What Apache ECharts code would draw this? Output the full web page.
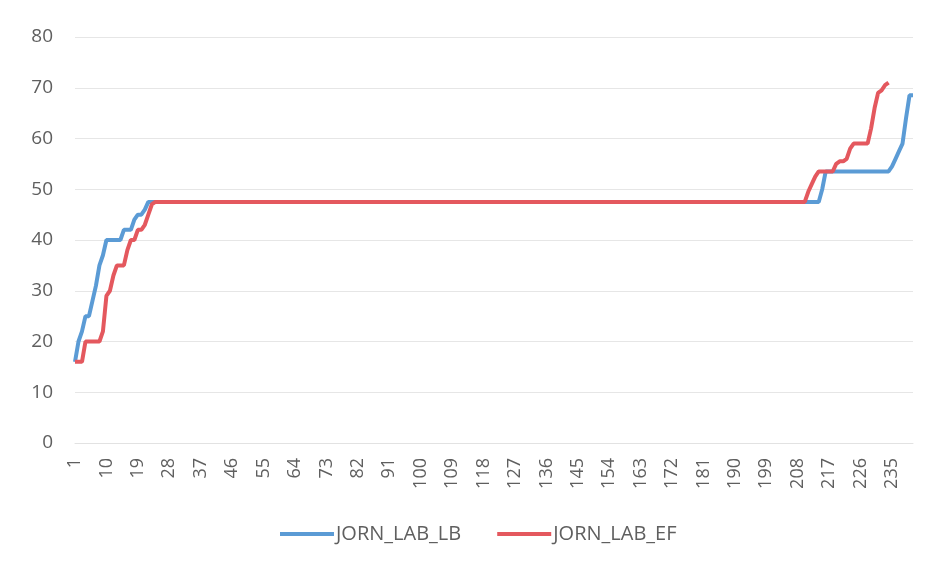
<!DOCTYPE html>
<html>
<head>
<meta charset="utf-8">
<script src="https://cdn.jsdelivr.net/npm/echarts@6/dist/echarts.min.js"></script>
<style>
html,body{margin:0;padding:0;background:#fff;}
#chart{width:933px;height:570px;}
</style>
</head>
<body>
<div id="chart"></div>
<script>
// Category labels 1..241
const categories = Array.from({length: 241}, (_, i) => String(i + 1));
const yTicks = [0, 10, 20, 30, 40, 50, 60, 70, 80];
const seriesNames = ['JORN_LAB_LB', 'JORN_LAB_EF'];

const jornLabLB = [
  16, 20, 22, 25, 25, 28, 31, 35, 37, 40, 40, 40, 40, 40, 42, 42, 42, 44, 45, 45,
  46,
  47.5,47.5,47.5,47.5,47.5,47.5,47.5,47.5,47.5,47.5, 47.5,47.5,47.5,47.5,47.5,47.5,47.5,47.5,47.5,47.5,
  47.5,47.5,47.5,47.5,47.5,47.5,47.5,47.5,47.5,47.5, 47.5,47.5,47.5,47.5,47.5,47.5,47.5,47.5,47.5,47.5,
  47.5,47.5,47.5,47.5,47.5,47.5,47.5,47.5,47.5,47.5, 47.5,47.5,47.5,47.5,47.5,47.5,47.5,47.5,47.5,47.5,
  47.5,47.5,47.5,47.5,47.5,47.5,47.5,47.5,47.5,47.5, 47.5,47.5,47.5,47.5,47.5,47.5,47.5,47.5,47.5,47.5,
  47.5,47.5,47.5,47.5,47.5,47.5,47.5,47.5,47.5,47.5, 47.5,47.5,47.5,47.5,47.5,47.5,47.5,47.5,47.5,47.5,
  47.5,47.5,47.5,47.5,47.5,47.5,47.5,47.5,47.5,47.5, 47.5,47.5,47.5,47.5,47.5,47.5,47.5,47.5,47.5,47.5,
  47.5,47.5,47.5,47.5,47.5,47.5,47.5,47.5,47.5,47.5, 47.5,47.5,47.5,47.5,47.5,47.5,47.5,47.5,47.5,47.5,
  47.5,47.5,47.5,47.5,47.5,47.5,47.5,47.5,47.5,47.5, 47.5,47.5,47.5,47.5,47.5,47.5,47.5,47.5,47.5,47.5,
  47.5,47.5,47.5,47.5,47.5,47.5,47.5,47.5,47.5,47.5, 47.5,47.5,47.5,47.5,47.5,47.5,47.5,47.5,47.5,47.5,
  47.5,47.5,47.5,47.5,47.5,47.5,47.5,47.5,47.5,47.5, 47.5,47.5,47.5,
  50,
  53.5,53.5,53.5,53.5,53.5,53.5,53.5,53.5,53.5,53.5, 53.5,53.5,53.5,53.5,53.5,53.5,53.5,53.5,53.5,
  54.5, 56, 57.5, 59, 64, 68.5, 68.5
];

const jornLabEF = [
  16, 16, 16, 20, 20, 20, 20, 20, 22, 29, 30, 33, 35, 35, 35, 38, 40, 40, 42, 42,
  43, 45, 47,
  47.5,47.5,47.5,47.5,47.5,47.5,47.5,47.5,47.5,47.5, 47.5,47.5,47.5,47.5,47.5,47.5,47.5,47.5,47.5,47.5,
  47.5,47.5,47.5,47.5,47.5,47.5,47.5,47.5,47.5,47.5, 47.5,47.5,47.5,47.5,47.5,47.5,47.5,47.5,47.5,47.5,
  47.5,47.5,47.5,47.5,47.5,47.5,47.5,47.5,47.5,47.5, 47.5,47.5,47.5,47.5,47.5,47.5,47.5,47.5,47.5,47.5,
  47.5,47.5,47.5,47.5,47.5,47.5,47.5,47.5,47.5,47.5, 47.5,47.5,47.5,47.5,47.5,47.5,47.5,47.5,47.5,47.5,
  47.5,47.5,47.5,47.5,47.5,47.5,47.5,47.5,47.5,47.5, 47.5,47.5,47.5,47.5,47.5,47.5,47.5,47.5,47.5,47.5,
  47.5,47.5,47.5,47.5,47.5,47.5,47.5,47.5,47.5,47.5, 47.5,47.5,47.5,47.5,47.5,47.5,47.5,47.5,47.5,47.5,
  47.5,47.5,47.5,47.5,47.5,47.5,47.5,47.5,47.5,47.5, 47.5,47.5,47.5,47.5,47.5,47.5,47.5,47.5,47.5,47.5,
  47.5,47.5,47.5,47.5,47.5,47.5,47.5,47.5,47.5,47.5, 47.5,47.5,47.5,47.5,47.5,47.5,47.5,47.5,47.5,47.5,
  47.5,47.5,47.5,47.5,47.5,47.5,47.5,47.5,47.5,47.5, 47.5,47.5,47.5,47.5,47.5,47.5,47.5,47.5,47.5,47.5,
  47.5,47.5,47.5,47.5,47.5,47.5,47.5,
  49.5, 51, 52.5,
  53.5, 53.5, 53.5, 53.5, 53.5,
  55, 55.5, 55.5, 56, 58,
  59, 59, 59, 59, 59,
  62, 66, 69, 69.5, 70.5, 71
];

const colors = ['#5b9bd5', '#e4585e'];
const textColor = '#5f5f5f';
const fontFamily = '"Open Sans", "Noto Sans", sans-serif';

const chart = echarts.init(document.getElementById('chart'), null, {renderer: 'canvas'});
chart.setOption({
  animation: false,
  backgroundColor: '#ffffff',
  grid: {left: 75, right: 20, top: 37, bottom: 127, containLabel: false},
  legend: {
    data: seriesNames,
    left: 275,
    top: 519,
    icon: 'rect',
    itemWidth: 54,
    itemHeight: 4,
    itemGap: 36,
    textStyle: {color: textColor, fontSize: 20, fontFamily: fontFamily, padding: [0, 0, 0, -3]}
  },
  xAxis: {
    type: 'category',
    data: categories,
    boundaryGap: false,
    axisLine: {show: true, lineStyle: {color: '#e2e2e2', width: 1}},
    axisTick: {show: false},
    splitLine: {show: false},
    axisLabel: {
      interval: 8,
      rotate: 90,
      margin: 15,
      color: textColor,
      fontSize: 18,
      fontFamily: fontFamily
    }
  },
  yAxis: {
    type: 'value',
    min: yTicks[0],
    max: yTicks[yTicks.length - 1],
    interval: 10,
    axisLine: {show: false},
    axisTick: {show: false},
    splitLine: {show: true, lineStyle: {color: '#e6e6e6', width: 1}},
    axisLabel: {color: textColor, fontSize: 19, fontFamily: fontFamily, margin: 22}
  },
  series: [
    {
      name: seriesNames[0],
      type: 'line',
      data: jornLabLB,
      showSymbol: false,
      symbol: 'none',
      lineStyle: {color: colors[0], width: 4},
      itemStyle: {color: colors[0]}
    },
    {
      name: seriesNames[1],
      type: 'line',
      data: jornLabEF,
      showSymbol: false,
      symbol: 'none',
      lineStyle: {color: colors[1], width: 4},
      itemStyle: {color: colors[1]}
    }
  ]
});
</script>
</body>
</html>
